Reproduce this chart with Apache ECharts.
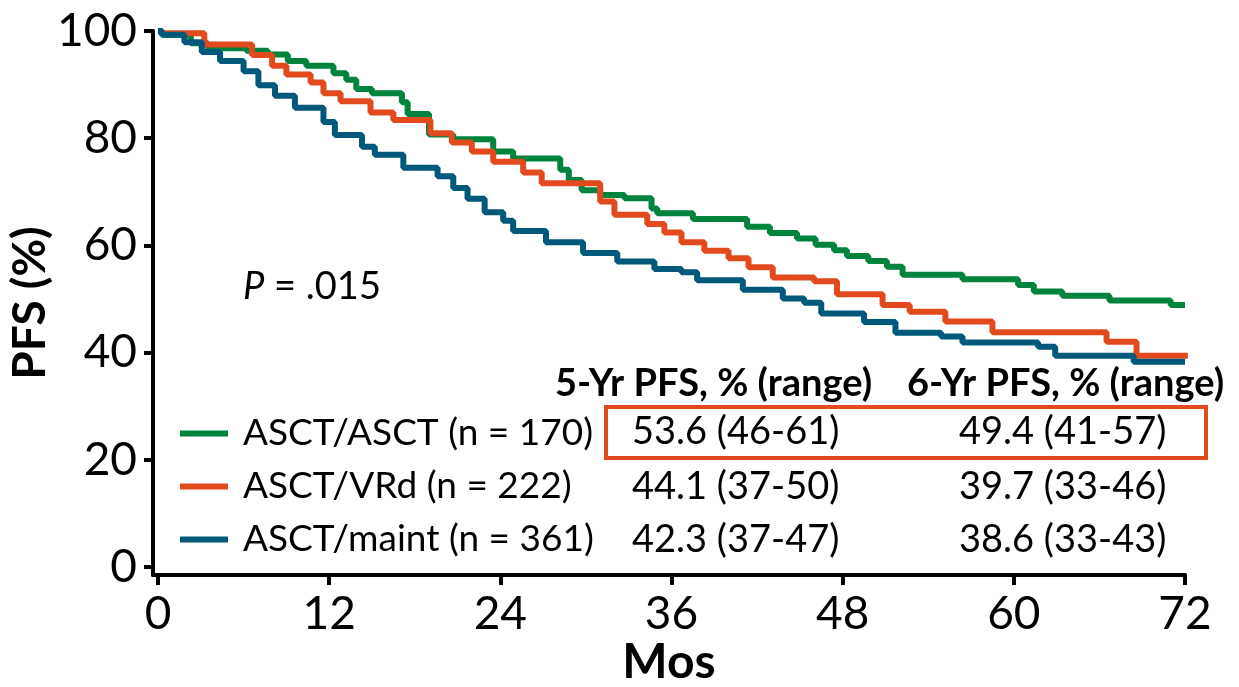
<!DOCTYPE html>
<html>
<head>
<meta charset="utf-8">
<script src="https://cdn.jsdelivr.net/npm/echarts@6/dist/echarts.min.js"></script>
<style>
  html, body { margin: 0; padding: 0; background: #fff; }
  #chart { width: 1239px; height: 687px; }
</style>
</head>
<body>
<div id="chart"></div>
<script>
// KM steps, [month, PFS %]
var asctAsct = [[0,100],[0.3,99.3],[2.3,97.7],[3.5,96.8],[6.2,96.3],[7.7,95.6],[9.1,94.4],[10.4,93.5],[12.3,92.1],[13.2,90.9],[13.9,89.2],[15.0,88.4],[17.1,86.7],[17.5,84.5],[19.0,80.7],[20.7,79.8],[23.5,77.5],[24.9,76.2],[28.2,74.1],[28.8,72.2],[29.7,70.3],[31.0,69.4],[32.7,68.8],[34.6,66.9],[35.0,66.0],[37.5,64.9],[41.3,63.5],[42.9,62.3],[44.8,61.3],[46.1,60.1],[47.4,59.1],[48.3,58.0],[49.8,57.1],[51.1,56.0],[52.2,54.5],[56.4,53.7],[60.3,52.6],[61.4,51.4],[63.4,50.6],[66.7,49.7],[71.0,48.9],[72.0,48.9]];
var asctVrd = [[0,100],[0.2,99.6],[3.25,97.5],[6.6,95.5],[8.0,93.5],[9.0,91.9],[10.7,90.4],[11.6,88.4],[12.8,86.9],[14.9,84.8],[16.5,83.4],[19.1,80.9],[20.6,79.2],[22.0,77.5],[23.5,75.6],[25.6,73.6],[26.9,71.6],[31.0,68.2],[32.0,65.7],[34.3,64.0],[35.5,62.4],[36.7,60.6],[38.3,59.0],[40.0,57.6],[41.4,55.9],[43.1,54.0],[46.0,53.3],[47.6,50.9],[50.8,48.9],[52.7,47.6],[55.2,45.8],[58.5,43.8],[66.5,42.0],[68.6,39.4],[72.2,39.4]];
var asctMaint = [[0,100],[0.26,99.3],[1.85,97.9],[3.07,96.1],[4.35,94.4],[6.0,92.5],[7.04,89.9],[8.2,87.9],[9.6,85.7],[11.6,83.0],[12.4,80.6],[14.3,78.4],[15.2,76.9],[17.2,74.5],[19.6,72.9],[20.7,70.7],[21.7,68.7],[22.9,66.2],[24.2,64.6],[24.9,62.7],[27.2,60.6],[29.8,58.6],[32.2,57.0],[34.8,55.6],[36.7,55.0],[37.8,53.5],[41.0,51.7],[43.8,50.1],[45.3,49.3],[46.5,47.3],[49.5,45.7],[51.7,43.7],[54.9,43.0],[56.4,41.9],[61.7,41.1],[62.9,39.4],[68.4,38.3],[72.0,38.3]];

var groupNames = ['ASCT/ASCT (n = 170)', 'ASCT/VRd (n = 222)', 'ASCT/maint (n = 361)'];
var groupColors = ['#00843D', '#E24A1E', '#00587A'];
var tableHeaders = ['5-Yr PFS, % (range)', '6-Yr PFS, % (range)'];
var fiveYr = ['53.6 (46-61)', '44.1 (37-50)', '42.3 (37-47)'];
var sixYr = ['49.4 (41-57)', '39.7 (33-46)', '38.6 (33-43)'];
var xTicks = [0, 12, 24, 36, 48, 60, 72];
var yTicks = [0, 20, 40, 60, 80, 100];

var FONT = 'Lato';
var rowY = [432, 487, 540];

var graphics = [];
// p value
graphics.push({
    type: 'text', x: 243, y: 287,
    style: {
        text: '{i|P} = .015', fontSize: 38, fontFamily: FONT, fill: '#000', verticalAlign: 'middle',
        rich: { i: { fontStyle: 'italic', fontSize: 38, fontFamily: FONT } }
    }
});
// table headers
graphics.push({ type: 'text', x: 555, y: 384, style: { text: tableHeaders[0], fontSize: 38, fontWeight: 'bold', fontFamily: FONT, fill: '#000', verticalAlign: 'middle' } });
graphics.push({ type: 'text', x: 907, y: 384, style: { text: tableHeaders[1], fontSize: 38, fontWeight: 'bold', fontFamily: FONT, fill: '#000', verticalAlign: 'middle' } });
// table values
for (var i = 0; i < 3; i++) {
    graphics.push({ type: 'text', x: 632, y: rowY[i], style: { text: fiveYr[i], fontSize: 38, fontFamily: FONT, fill: '#000', verticalAlign: 'middle' } });
    graphics.push({ type: 'text', x: 959, y: rowY[i], style: { text: sixYr[i], fontSize: 38, fontFamily: FONT, fill: '#000', verticalAlign: 'middle' } });
}
// highlight box round the first row
graphics.push({ type: 'rect', shape: { x: 606, y: 407, width: 600, height: 51 }, style: { fill: 'none', stroke: '#E24A1E', lineWidth: 4 } });

function makeSeries(name, data, color) {
    return {
        name: name,
        type: 'line',
        step: 'end',
        data: data,
        showSymbol: false,
        symbol: 'none',
        clip: false,
        lineStyle: { color: color, width: 6 },
        itemStyle: { color: color }
    };
}

var option = {
    animation: false,
    backgroundColor: '#fff',
    grid: { left: 153, right: 54, top: 31, bottom: 112, containLabel: false, outerBoundsMode: 'none' },
    legend: {
        orient: 'vertical',
        left: 175, top: 410,
        itemWidth: 48, itemHeight: 6, itemGap: 16,
        icon: 'rect',
        textStyle: { fontSize: 37, fontFamily: FONT, color: '#000', padding: [0, 0, 0, 10] },
        data: groupNames
    },
    xAxis: {
        type: 'value',
        min: -0.35, max: 72,
        name: 'Mos', nameLocation: 'middle', nameGap: 64, nameMoveOverlap: false,
        nameTextStyle: { fontSize: 48, fontWeight: 'bold', fontFamily: FONT, color: '#000' },
        axisLine: { show: true, onZero: false, lineStyle: { color: '#000', width: 4 } },
        axisTick: { show: true, length: 10, lineStyle: { color: '#000', width: 4 }, customValues: xTicks },
        axisLabel: { fontSize: 46, fontFamily: FONT, color: '#000', margin: 16, customValues: xTicks },
        splitLine: { show: false }
    },
    yAxis: {
        type: 'value',
        min: -1.5, max: 100,
        name: 'PFS (%)', nameLocation: 'middle', nameGap: 100, nameRotate: 90, nameMoveOverlap: false,
        nameTextStyle: { fontSize: 46, fontWeight: 'bold', fontFamily: FONT, color: '#000' },
        axisLine: { show: true, onZero: false, lineStyle: { color: '#000', width: 4 } },
        axisTick: { show: true, length: 9, lineStyle: { color: '#000', width: 4 }, customValues: yTicks },
        axisLabel: { fontSize: 46, fontFamily: FONT, color: '#000', margin: 16, customValues: yTicks },
        splitLine: { show: false }
    },
    graphic: graphics,
    series: [
        makeSeries(groupNames[0], asctAsct, groupColors[0]),
        makeSeries(groupNames[1], asctVrd, groupColors[1]),
        makeSeries(groupNames[2], asctMaint, groupColors[2])
    ]
};

var chart = echarts.init(document.getElementById('chart'));
chart.setOption(option);
</script>
</body>
</html>
